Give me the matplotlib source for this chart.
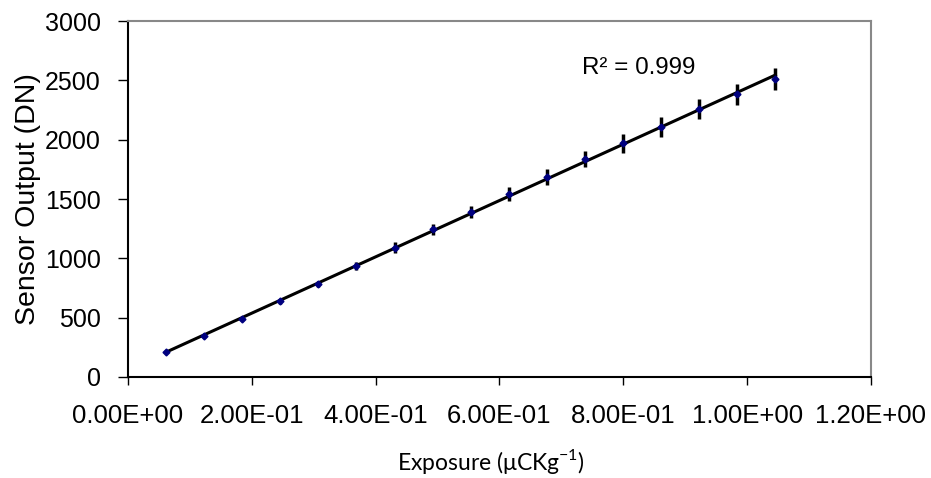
import matplotlib
matplotlib.use("Agg")
import matplotlib.pyplot as plt
import numpy as np
from matplotlib.ticker import FuncFormatter

plt.rcParams['font.family'] = ['Liberation Sans', 'DejaVu Sans']

# exposure (uCKg-1) and sensor output (DN)
exposure = [0.0615, 0.123, 0.1845, 0.246, 0.3075, 0.369, 0.4305, 0.492, 0.5535,
            0.615, 0.6765, 0.738, 0.7995, 0.861, 0.9225, 0.984, 1.0455]
dn = [210, 343, 486, 638, 786, 938, 1090, 1244, 1390,
      1542, 1683, 1837, 1969, 2104, 2256, 2382, 2511]
dn_err = [8, 12, 15, 20, 25, 35, 45, 49, 52, 60, 66, 70, 77, 84, 85, 88, 93]

xticks = [0.0, 0.2, 0.4, 0.6, 0.8, 1.0, 1.2]
yticks = [0, 500, 1000, 1500, 2000, 2500, 3000]

fig = plt.figure(figsize=(9.31, 4.78), dpi=100)
ax = fig.add_axes([0.1375, 0.2113, 0.798, 0.7447])

ax.errorbar(exposure, dn, yerr=dn_err, fmt='none', ecolor='black', elinewidth=2.5, capsize=0, zorder=2)

# linear trendline
x = np.array(exposure)
y = np.array(dn)
m, b = np.polyfit(x, y, 1)
ax.plot([x[0], x[-1]], [m * x[0] + b, m * x[-1] + b], color='black', lw=2.2, zorder=3)
ax.plot(exposure, dn, ls='none', marker='D', ms=3.5, color='#000080', zorder=4)

ax.text(0.733, 2603, 'R² = 0.999', fontsize=17.4, va='center', ha='left')

ax.set_xlim(0, 1.2)
ax.set_ylim(0, 3000)
ax.set_xticks(xticks)
ax.set_yticks(yticks)
ax.xaxis.set_major_formatter(FuncFormatter(lambda v, p: '{:.2E}'.format(v)))
ax.tick_params(axis='x', labelsize=18.5, length=5.5, width=1, color='black', direction='out', pad=14)
ax.tick_params(axis='y', labelsize=18, length=7.5, width=1, color='black', direction='out', pad=12)

for s in ['top', 'right']:
    ax.spines[s].set_color('#888888')
    ax.spines[s].set_linewidth(1.5)
for s in ['left', 'bottom']:
    ax.spines[s].set_color('black')
    ax.spines[s].set_linewidth(1.5)

ax.set_ylabel('Sensor Output (DN)', fontsize=20.5, labelpad=4)
ax.yaxis.set_label_coords(-0.117, 0.5)
fig.text(0.527, 0.035, r'Exposure ($\mathregular{\mu}$CKg$^{\mathregular{-1}}$)', fontsize=16.5,
         ha='center', va='center', family=['Lato', 'DejaVu Sans'])

fig.savefig('out.png', dpi=100)
